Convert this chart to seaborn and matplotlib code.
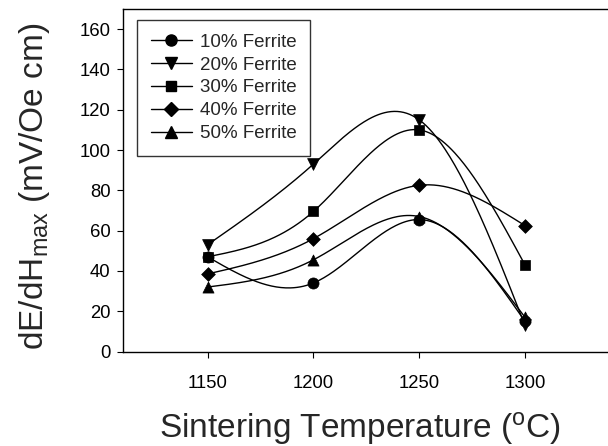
import numpy as np
import pandas as pd
import matplotlib
matplotlib.use("Agg")
import matplotlib.pyplot as plt
from matplotlib.lines import Line2D
import seaborn as sns

temps = [1150, 1200, 1250, 1300]
series_names = ["10% Ferrite", "20% Ferrite", "30% Ferrite", "40% Ferrite", "50% Ferrite"]
ferrite_10 = [47, 34, 65.5, 15]
ferrite_20 = [53, 93, 115, 13]
ferrite_30 = [47, 69.5, 110, 43]
ferrite_40 = [38.5, 56, 82.5, 62.5]
ferrite_50 = [32, 45.5, 67, 17]
y_ticks = [0, 20, 40, 60, 80, 100, 120, 140, 160]
x_ticks = [1150, 1200, 1250, 1300]

series_values = [ferrite_10, ferrite_20, ferrite_30, ferrite_40, ferrite_50]
markers = ["o", "v", "s", "D", "^"]
msizes = [8, 8.5, 7.5, 7, 8]


def natural_spline(x, y, n=200):
    x = np.asarray(x, float)
    y = np.asarray(y, float)
    k = len(x)
    h = np.diff(x)
    A = np.zeros((k, k))
    r = np.zeros(k)
    A[0, 0] = 1
    A[-1, -1] = 1
    for i in range(1, k - 1):
        A[i, i - 1] = h[i - 1]
        A[i, i] = 2 * (h[i - 1] + h[i])
        A[i, i + 1] = h[i]
        r[i] = 6 * ((y[i + 1] - y[i]) / h[i] - (y[i] - y[i - 1]) / h[i - 1])
    M = np.linalg.solve(A, r)
    xs = np.linspace(x[0], x[-1], n)
    ys = np.empty_like(xs)
    for j, xv in enumerate(xs):
        i = min(np.searchsorted(x, xv, side="right") - 1, k - 2)
        t1 = x[i + 1] - xv
        t2 = xv - x[i]
        ys[j] = (M[i] * t1 ** 3 / (6 * h[i]) + M[i + 1] * t2 ** 3 / (6 * h[i])
                 + (y[i] / h[i] - M[i] * h[i] / 6) * t1
                 + (y[i + 1] / h[i] - M[i + 1] * h[i] / 6) * t2)
    return xs, ys


sns.set_theme(style="white")
plt.rcParams["font.family"] = ["Liberation Sans", "DejaVu Sans"]
plt.rcParams["mathtext.fontset"] = "custom"
plt.rcParams["mathtext.rm"] = "Liberation Sans"
plt.rcParams["mathtext.it"] = "Liberation Sans"

W, H = 608, 446
fig = plt.figure(figsize=(W / 100, H / 100), dpi=100)
ax_w = 1 - 123 / W + 0.02
ax = fig.add_axes([123 / W, (H - 351.5) / H, ax_w, (351.5 - 9) / H])

rows = []
for name, vals in zip(series_names, series_values):
    xs, ys = natural_spline(temps, vals)
    sns.lineplot(x=xs, y=ys, ax=ax, color="black", linewidth=1.0, sort=False, legend=False)
    for t, v in zip(temps, vals):
        rows.append({"T": t, "v": v, "s": name})
df = pd.DataFrame(rows)

for name, m, ms in zip(series_names, markers, msizes):
    sub = df[df["s"] == name]
    sns.scatterplot(data=sub, x="T", y="v", marker=m, s=ms ** 2, color="black",
                    edgecolor="black", linewidth=0.5, ax=ax, legend=False, zorder=3)

ax.set_xlim(1110, 1345)
ax.set_ylim(0, 170)
ax.set_xticks(x_ticks)
ax.set_yticks(y_ticks)
ax.tick_params(axis="both", direction="out", length=4, width=0.8, colors="black",
               labelsize=13.3, left=True, bottom=True, pad=5)
ax.tick_params(axis="x", pad=13)
for side in ["left", "bottom", "top"]:
    ax.spines[side].set_color("black")
    ax.spines[side].set_linewidth(1.0)
ax.spines["right"].set_visible(False)

ax_w_px = ax_w * W
ax_h_px = 351.5 - 9
ax.set_xlabel("Sintering Temperature ($^{\\mathrm{o}}$C)", fontsize=24)
ax.xaxis.set_label_coords((360 - 123) / ax_w_px, (351.5 - 410) / ax_h_px)
ax.set_ylabel("dE/dH$_{\\mathrm{max}}$ (mV/Oe cm)", fontsize=24)
ax.yaxis.set_label_coords((52 - 123) / ax_w_px, (351.5 - 186) / ax_h_px)

handles = [Line2D([0], [0], color="black", linewidth=1.0, marker=m, markersize=ms,
                  markerfacecolor="black", markeredgecolor="black")
           for m, ms in zip(markers, msizes)]
leg = ax.legend(handles, series_names, loc="upper left",
                bbox_to_anchor=(137 / W, 1 - 20 / H), bbox_transform=fig.transFigure,
                fontsize=13.5, frameon=True, fancybox=False, edgecolor="black",
                handlelength=2.2, labelspacing=0.31, borderpad=0.72, handletextpad=0.45,
                borderaxespad=0)
leg.get_frame().set_linewidth(1.0)

fig.savefig("out.png", dpi=100)
